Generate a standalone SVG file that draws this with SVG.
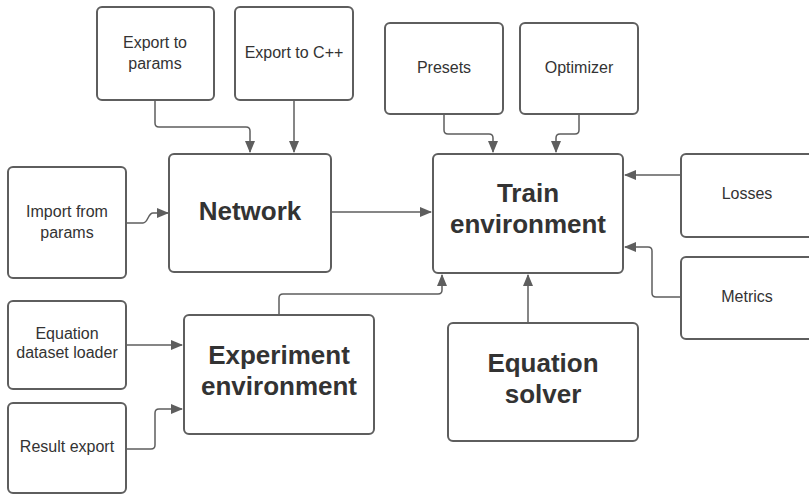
<svg xmlns="http://www.w3.org/2000/svg" width="809" height="494" viewBox="0 0 809 494">
<defs>
<style>
.box{fill:#ffffff;stroke:#5e5e5e;stroke-width:2}
.t{font-family:"Liberation Sans",Arial,sans-serif;font-size:16px;fill:#333333;text-anchor:middle}
.b{font-family:"Liberation Sans",Arial,sans-serif;font-size:26px;font-weight:bold;fill:#333333;text-anchor:middle}
.c{fill:none;stroke:#5e5e5e;stroke-width:1.5}
</style>
<marker id="ah" markerWidth="12" markerHeight="10" refX="11" refY="5" orient="auto" markerUnits="userSpaceOnUse">
<path d="M0,0 L12,5 L0,10 Z" fill="#5e5e5e"/>
</marker>
</defs>
<rect width="809" height="494" fill="#ffffff"/>
<g id="connectors">
<path class="c" d="M155,100 V123 Q155,127 159,127 H246 Q250,127 250,131 V152" marker-end="url(#ah)"/>
<path class="c" d="M294,100 V152" marker-end="url(#ah)"/>
<path class="c" d="M126,223 H143 C148,223 148,213 153,213 H168" marker-end="url(#ah)"/>
<path class="c" d="M331,212 H431" marker-end="url(#ah)"/>
<path class="c" d="M444,114 V130 Q444,134 448,134 H489 Q493,134 493,138 V152" marker-end="url(#ah)"/>
<path class="c" d="M579,114 V130 Q579,134 575,134 H560 Q556,134 556,138 V152" marker-end="url(#ah)"/>
<path class="c" d="M681,175 H625" marker-end="url(#ah)"/>
<path class="c" d="M681,297 H656 Q652,297 652,293 V251 Q652,247 648,247 H625" marker-end="url(#ah)"/>
<path class="c" d="M126,345 H182" marker-end="url(#ah)"/>
<path class="c" d="M126,449 H151 Q155,449 155,445 V413 Q155,409 159,409 H182" marker-end="url(#ah)"/>
<path class="c" d="M279,315 V298 Q279,294 283,294 H438 Q442,294 442,290 V275" marker-end="url(#ah)"/>
<path class="c" d="M528,323 V275" marker-end="url(#ah)"/>
</g>
<g id="export-params"><rect class="box" x="97" y="7" width="117" height="93" rx="5"/><text class="t" x="155" y="48">Export to</text><text class="t" x="155" y="69">params</text></g>
<g id="export-cpp"><rect class="box" x="235" y="7" width="118" height="93" rx="5"/><text class="t" x="294" y="58">Export to C++</text></g>
<g id="presets"><rect class="box" x="385" y="23" width="118" height="91" rx="5"/><text class="t" x="444" y="73">Presets</text></g>
<g id="optimizer"><rect class="box" x="520" y="23" width="118" height="91" rx="5"/><text class="t" x="579" y="73">Optimizer</text></g>
<g id="import-params"><rect class="box" x="8" y="167" width="118" height="111" rx="5"/><text class="t" x="67" y="217">Import from</text><text class="t" x="67" y="238">params</text></g>
<g id="network"><rect class="box" x="169" y="154" width="162" height="118" rx="5"/><text class="b" x="250" y="220">Network</text></g>
<g id="train"><rect class="box" x="433" y="154" width="190" height="119" rx="5"/><text class="b" x="528" y="202">Train</text><text class="b" x="528" y="233">environment</text></g>
<g id="losses"><rect class="box" x="681" y="154" width="140" height="83" rx="5"/><text class="t" x="747" y="199">Losses</text></g>
<g id="metrics"><rect class="box" x="681" y="257" width="140" height="82" rx="5"/><text class="t" x="747" y="302">Metrics</text></g>
<g id="dataset-loader"><rect class="box" x="8" y="301" width="118" height="88" rx="5"/><text class="t" x="67" y="339">Equation</text><text class="t" x="67" y="358">dataset loader</text></g>
<g id="result-export"><rect class="box" x="8" y="403" width="118" height="90" rx="5"/><text class="t" x="67" y="452">Result export</text></g>
<g id="experiment"><rect class="box" x="184" y="315" width="190" height="119" rx="5"/><text class="b" x="279" y="364">Experiment</text><text class="b" x="279" y="395">environment</text></g>
<g id="solver"><rect class="box" x="448" y="323" width="190" height="118" rx="5"/><text class="b" x="543" y="372">Equation</text><text class="b" x="543" y="403">solver</text></g>
</svg>
